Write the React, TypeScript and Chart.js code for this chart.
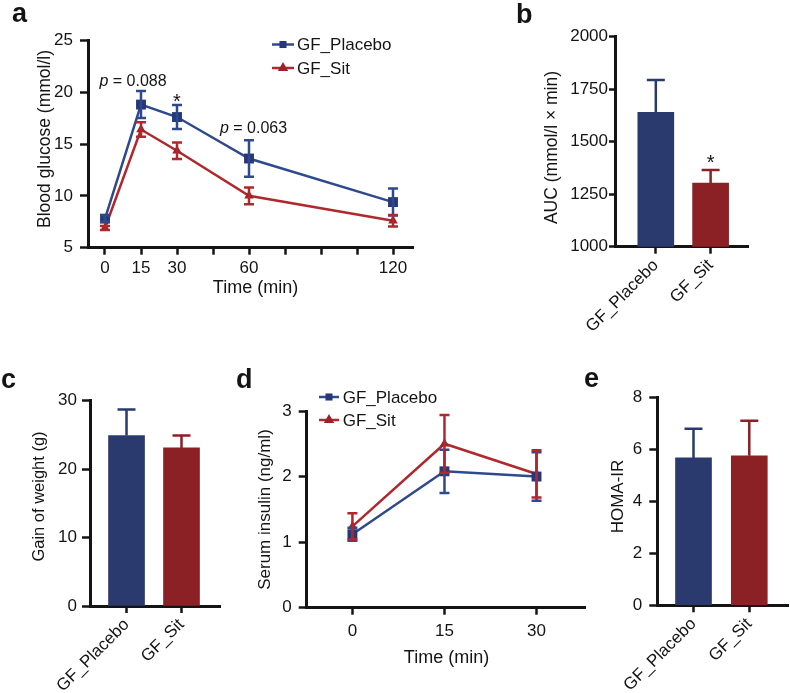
import { useEffect, useRef } from 'react';
import { Chart, registerables } from 'chart.js';

Chart.register(...registerables);

const FONT = "'Liberation Sans', Arial, Helvetica, sans-serif";
const W = 790;
const H = 693;
const INK = '#141414';

const BLUE_LINE = '#2f4a8c';
const BLUE_MARK = '#27377a';
const RED_LINE = '#b0282d';
const RED_MARK = '#9d2227';
const BLUE_BAR = '#2b3a6e';
const RED_BAR = '#8b2125';

// ---------------- data ----------------
const groups = ['GF_Placebo', 'GF_Sit'];
const groupPos = [0, 1];

const ogttTimes = [0, 15, 30, 60, 120];
const ogttTicks = [0, 15, 30, 45, 60, 75, 90, 105, 120];
const ogttTickLabels = ['0', '15', '30', '', '60', '', '', '', '120'];
const glucoseTicks = [5, 10, 15, 20, 25];
const glucosePlacebo = [7.8, 18.8, 17.6, 13.6, 9.4];
const glucosePlaceboSem = [0.3, 1.3, 1.15, 1.75, 1.3];
const glucoseSit = [6.9, 16.4, 14.35, 10.0, 7.6];
const glucoseSitSem = [0.2, 0.7, 0.8, 0.8, 0.55];

const aucTicks = [1000, 1250, 1500, 1750, 2000];
const aucValues = [1640, 1303];
const aucSem = [154, 62];

const weightTicks = [0, 10, 20, 30];
const weightGain = [24.9, 23.1];
const weightGainSem = [3.8, 1.8];

const insulinTimes = [0, 15, 30];
const insulinTicks = [0, 15, 30];
const insulinTickLabels = ['0', '15', '30'];
const insulinYTicks = [0, 1, 2, 3];
const insulinPlacebo = [1.12, 2.08, 2.0];
const insulinPlaceboSem = [0.1, 0.33, 0.37];
const insulinSit = [1.24, 2.5, 2.04];
const insulinSitSem = [0.2, 0.44, 0.36];

const homaTicks = [0, 2, 4, 6, 8];
const homaIR = [5.68, 5.76];
const homaIRSem = [1.12, 1.35];

// ---------------- helpers ----------------
type Box = { left: number; top: number; right: number; bottom: number };
type Txt = { text: string; x: number; y: number; size: number; bold?: boolean; rotate?: boolean; align?: CanvasTextAlign };
type Ann = { parts: { t: string; italic?: boolean }[]; x: number; y: number; size: number };
type ErrSet = { vals: number[]; errs: number[]; colors: string[]; both: boolean; cap: number };
type LegItem = { label: string; line: string; mark: string; style: string; r: number };
type Leg = { x0: number; x1: number; mx: number; tx: number; rows: number[]; base: number; items: LegItem[] };

function yAxis(min: number, max: number, ticks: number[], width: number, tickLen: number, pad: number) {
  return {
    type: 'linear',
    position: 'left',
    min,
    max,
    bounds: 'data',
    beginAtZero: false,
    afterFit: (s: any) => {
      s.width = width;
    },
    afterBuildTicks: (s: any) => {
      s.ticks = ticks.map((v) => ({ value: v }));
    },
    grid: { drawOnChartArea: false, drawTicks: true, tickLength: tickLen, tickWidth: 2.5, tickColor: INK, color: INK },
    border: { display: true, color: INK, width: 3 },
    ticks: {
      color: INK,
      font: { family: FONT, size: 17, lineHeight: 1 },
      padding: pad,
      autoSkip: false,
      callback: (v: any) => String(v),
    },
  };
}

function xAxis(min: number, max: number, ticks: number[], labels: string[], height: number, rotate: boolean, pad: number) {
  return {
    type: 'linear',
    position: 'bottom',
    min,
    max,
    bounds: 'data',
    offset: false,
    afterFit: (s: any) => {
      s.height = height;
    },
    afterBuildTicks: (s: any) => {
      s.ticks = ticks.map((v) => ({ value: v }));
    },
    grid: { offset: false, drawOnChartArea: false, drawTicks: true, tickLength: 7, tickWidth: 2.5, tickColor: INK, color: INK },
    border: { display: true, color: INK, width: 3 },
    ticks: {
      color: INK,
      font: { family: FONT, size: 17, lineHeight: 1 },
      padding: pad,
      autoSkip: false,
      minRotation: rotate ? 45 : 0,
      maxRotation: rotate ? 45 : 0,
      callback: (_v: any, i: number) => labels[i] ?? '',
    },
  };
}

function baseOptions(box: Box, x: any, y: any) {
  return {
    responsive: false,
    maintainAspectRatio: false,
    animation: false,
    devicePixelRatio: 1,
    events: [],
    layout: { autoPadding: false, padding: { left: 0, top: box.top, right: W - box.right, bottom: 0 } },
    plugins: { legend: { display: false }, tooltip: { enabled: false }, title: { display: false } },
    scales: { x, y },
  };
}

function drawMarker(ctx: CanvasRenderingContext2D, style: string, x: number, y: number, r: number, color: string) {
  ctx.fillStyle = color;
  ctx.beginPath();
  if (style === 'rect') {
    const s = r * Math.SQRT1_2;
    ctx.rect(x - s, y - s, 2 * s, 2 * s);
  } else {
    let a = 0;
    ctx.moveTo(x + Math.sin(a) * r, y - Math.cos(a) * r);
    a += (2 * Math.PI) / 3;
    ctx.lineTo(x + Math.sin(a) * r, y - Math.cos(a) * r);
    a += (2 * Math.PI) / 3;
    ctx.lineTo(x + Math.sin(a) * r, y - Math.cos(a) * r);
    ctx.closePath();
  }
  ctx.fill();
}

function extras(o: { errs?: ErrSet[]; texts?: Txt[]; anns?: Ann[]; legend?: Leg }) {
  return {
    id: 'extras',
    afterDatasetsDraw(chart: any) {
      const ctx: CanvasRenderingContext2D = chart.ctx;
      const ys = chart.scales.y;
      (o.errs || []).forEach((e, di) => {
        const meta = chart.getDatasetMeta(di);
        meta.data.forEach((el: any, i: number) => {
          const x = el.x;
          const v = e.vals[i];
          const d = e.errs[i];
          const top = ys.getPixelForValue(v + d);
          const bot = ys.getPixelForValue(e.both ? v - d : v);
          ctx.save();
          ctx.strokeStyle = e.colors[i % e.colors.length];
          ctx.lineWidth = 2.5;
          ctx.beginPath();
          ctx.moveTo(x, top);
          ctx.lineTo(x, bot);
          ctx.moveTo(x - e.cap, top);
          ctx.lineTo(x + e.cap, top);
          if (e.both) {
            ctx.moveTo(x - e.cap, bot);
            ctx.lineTo(x + e.cap, bot);
          }
          ctx.stroke();
          ctx.restore();
        });
      });
    },
    afterDraw(chart: any) {
      const ctx: CanvasRenderingContext2D = chart.ctx;
      (o.texts || []).forEach((t) => {
        ctx.save();
        ctx.font = `${t.bold ? 'bold ' : ''}${t.size}px ${FONT}`;
        ctx.fillStyle = INK;
        ctx.textAlign = t.align ?? 'center';
        ctx.textBaseline = 'alphabetic';
        ctx.translate(t.x, t.y);
        if (t.rotate) ctx.rotate(-Math.PI / 2);
        ctx.fillText(t.text, 0, 0);
        ctx.restore();
      });
      (o.anns || []).forEach((a) => {
        const px = chart.scales.x.getPixelForValue(a.x);
        const py = chart.scales.y.getPixelForValue(a.y);
        ctx.save();
        ctx.fillStyle = INK;
        ctx.textBaseline = 'alphabetic';
        ctx.textAlign = 'left';
        const fonts = a.parts.map((p) => `${p.italic ? 'italic ' : ''}${a.size}px ${FONT}`);
        let total = 0;
        const widths = a.parts.map((p, i) => {
          ctx.font = fonts[i];
          const w = ctx.measureText(p.t).width;
          total += w;
          return w;
        });
        let cx = px - total / 2;
        a.parts.forEach((p, i) => {
          ctx.font = fonts[i];
          ctx.fillText(p.t, cx, py);
          cx += widths[i];
        });
        ctx.restore();
      });
      const lg = o.legend;
      if (lg) {
        lg.items.forEach((it, i) => {
          const y = lg.rows[i];
          ctx.save();
          ctx.strokeStyle = it.line;
          ctx.lineWidth = 2.5;
          ctx.beginPath();
          ctx.moveTo(lg.x0, y);
          ctx.lineTo(lg.x1, y);
          ctx.stroke();
          drawMarker(ctx, it.style, lg.mx, y, it.r, it.mark);
          ctx.fillStyle = INK;
          ctx.font = `17px ${FONT}`;
          ctx.textAlign = 'left';
          ctx.textBaseline = 'alphabetic';
          ctx.fillText(it.label, lg.tx, y + lg.base);
          ctx.restore();
        });
      }
    },
  };
}

function lineDs(xs: number[], ys: number[], line: string, mark: string, style: string, r: number) {
  return {
    data: xs.map((x, i) => ({ x, y: ys[i] })),
    borderColor: line,
    backgroundColor: mark,
    borderWidth: 2.5,
    pointStyle: style,
    pointRadius: r,
    pointHoverRadius: r,
    pointBackgroundColor: mark,
    pointBorderColor: mark,
    pointBorderWidth: 0,
    tension: 0,
    fill: false,
    clip: false,
  };
}

function legendItems(): LegItem[] {
  return [
    { label: groups[0], line: BLUE_LINE, mark: BLUE_MARK, style: 'rect', r: 5 },
    { label: groups[1], line: RED_LINE, mark: RED_MARK, style: 'triangle', r: 6 },
  ];
}

function barConfig(box: Box, xr: [number, number], yr: [number, number], yTicks: number[], vals: number[], sem: number[], yTick: [number, number], texts: Txt[], anns: Ann[]) {
  return {
    type: 'bar',
    data: {
      datasets: [
        {
          data: groupPos.map((x, i) => ({ x, y: vals[i] })),
          backgroundColor: [BLUE_BAR, RED_BAR],
          barThickness: 36,
          borderWidth: 0,
        },
      ],
    },
    options: baseOptions(
      box,
      xAxis(xr[0], xr[1], groupPos, groups, H - box.bottom, true, 3),
      yAxis(yr[0], yr[1], yTicks, box.left, yTick[0], yTick[1])
    ),
    plugins: [extras({ errs: [{ vals, errs: sem, colors: [BLUE_BAR, RED_BAR], both: false, cap: 9 }], texts, anns })],
  };
}

function configA() {
  const box = { left: 88, top: 40.3, right: 413, bottom: 247.7 };
  return {
    type: 'line',
    data: {
      datasets: [
        lineDs(ogttTimes, glucosePlacebo, BLUE_LINE, BLUE_MARK, 'rect', 7),
        lineDs(ogttTimes, glucoseSit, RED_LINE, RED_MARK, 'triangle', 5.5),
      ],
    },
    options: baseOptions(
      box,
      xAxis(-7.083, 128.33, ogttTicks, ogttTickLabels, H - box.bottom, false, 5),
      yAxis(5, 25, glucoseTicks, box.left, 8, 7)
    ),
    plugins: [
      extras({
        errs: [
          { vals: glucosePlacebo, errs: glucosePlaceboSem, colors: [BLUE_LINE], both: true, cap: 5 },
          { vals: glucoseSit, errs: glucoseSitSem, colors: [RED_LINE], both: true, cap: 5 },
        ],
        texts: [
          { text: 'a', x: 12, y: 21.5, size: 27, bold: true, align: 'left' },
          { text: 'Blood glucose (mmol/l)', x: 50, y: 139, size: 17.5, rotate: true },
          { text: 'Time (min)', x: 255.5, y: 293, size: 18 },
        ],
        anns: [
          { parts: [{ t: 'p', italic: true }, { t: ' = 0.088' }], x: 11.67, y: 20.58, size: 16 },
          { parts: [{ t: '*' }], x: 30, y: 18.49, size: 20 },
          { parts: [{ t: 'p', italic: true }, { t: ' = 0.063' }], x: 61.9, y: 16.06, size: 16 },
        ],
        legend: { x0: 272, x1: 294, mx: 283, tx: 297, rows: [44.5, 68], base: 5.5, items: legendItems() },
      }),
    ],
  };
}

function configB() {
  const box = { left: 615, top: 36.7, right: 748.3, bottom: 246.7 };
  return barConfig(
    box,
    [-0.745, 1.688],
    [1000, 2000],
    aucTicks,
    aucValues,
    aucSem,
    [6, 1],
    [
      { text: 'b', x: 516, y: 23, size: 27, bold: true, align: 'left' },
      { text: 'AUC (mmol/l × min)', x: 557, y: 147.5, size: 17.5, rotate: true },
    ],
    [{ parts: [{ t: '*' }], x: 1, y: 1369.5, size: 20 }]
  );
}

function configC() {
  const box = { left: 90, top: 400.7, right: 220, bottom: 606 };
  return barConfig(
    box,
    [-0.664, 1.7],
    [0, 30],
    weightTicks,
    weightGain,
    weightGainSem,
    [8, 5],
    [
      { text: 'c', x: 1, y: 388, size: 27, bold: true, align: 'left' },
      { text: 'Gain of weight (g)', x: 44, y: 496.5, size: 16.5, rotate: true },
    ],
    []
  );
}

function configD() {
  const box = { left: 306.7, top: 411, right: 585, bottom: 607.7 };
  return {
    type: 'line',
    data: {
      datasets: [
        lineDs(insulinTimes, insulinPlacebo, BLUE_LINE, BLUE_MARK, 'rect', 7),
        lineDs(insulinTimes, insulinSit, RED_LINE, RED_MARK, 'triangle', 5.5),
      ],
    },
    options: baseOptions(
      box,
      xAxis(-7.45, 37.9, insulinTicks, insulinTickLabels, H - box.bottom, false, 8),
      yAxis(0, 3, insulinYTicks, box.left, 8, 7)
    ),
    plugins: [
      extras({
        errs: [
          { vals: insulinPlacebo, errs: insulinPlaceboSem, colors: [BLUE_LINE], both: true, cap: 5 },
          { vals: insulinSit, errs: insulinSitSem, colors: [RED_LINE], both: true, cap: 5 },
        ],
        texts: [
          { text: 'd', x: 236, y: 388, size: 27, bold: true, align: 'left' },
          { text: 'Serum insulin (ng/ml)', x: 270, y: 509.5, size: 17, rotate: true },
          { text: 'Time (min)', x: 446.5, y: 663, size: 18 },
        ],
        legend: { x0: 319, x1: 339, mx: 329, tx: 342.7, rows: [397, 420], base: 5.7, items: legendItems() },
      }),
    ],
  };
}

function configE() {
  const box = { left: 657.3, top: 397.7, right: 788, bottom: 605.3 };
  return barConfig(
    box,
    [-0.649, 1.694],
    [0, 8],
    homaTicks,
    homaIR,
    homaIRSem,
    [8, 7],
    [
      { text: 'e', x: 584, y: 387, size: 27, bold: true, align: 'left' },
      { text: 'HOMA-IR', x: 622.7, y: 496.5, size: 17, rotate: true },
    ],
    []
  );
}

export default function App() {
  const r0 = useRef<HTMLCanvasElement>(null);
  const r1 = useRef<HTMLCanvasElement>(null);
  const r2 = useRef<HTMLCanvasElement>(null);
  const r3 = useRef<HTMLCanvasElement>(null);
  const r4 = useRef<HTMLCanvasElement>(null);
  const refs = [r0, r1, r2, r3, r4];

  useEffect(() => {
    Chart.defaults.font.family = FONT;
    const configs = [configA(), configB(), configC(), configD(), configE()];
    const charts = configs.map((cfg, i) => new Chart(refs[i].current as HTMLCanvasElement, cfg as any));
    return () => charts.forEach((c) => c.destroy());
  }, []);

  return (
    <div style={{ position: 'absolute', left: 0, top: 0, width: W, height: H, background: '#ffffff', overflow: 'hidden' }}>
      {refs.map((r, i) => (
        <canvas
          key={i}
          ref={r}
          width={W}
          height={H}
          style={{ position: 'absolute', left: 0, top: 0, width: W, height: H }}
        />
      ))}
    </div>
  );
}
